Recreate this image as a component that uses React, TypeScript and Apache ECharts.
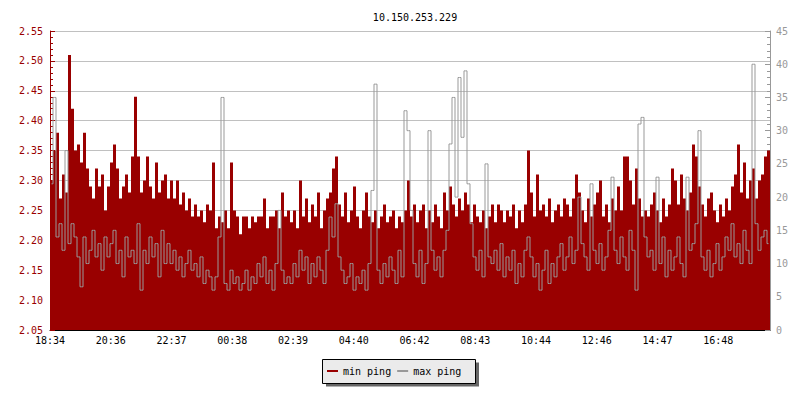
import React, { useEffect, useRef } from 'react';
import * as echarts from 'echarts';

const TITLE = '10.150.253.229';
const TICK_LABELS = ['18:34', '20:36', '22:37', '00:38', '02:39', '04:40', '06:42', '08:43', '10:44', '12:46', '14:47', '16:48'];
const LEGEND_NAMES = ['min ping', 'max ping'];

// one sample every 6 minutes over 24 hours (240 samples)
const MIN_PING = [
  2.30, 2.35, 2.38, 2.27, 2.31, 2.28, 2.51, 2.42, 2.35, 2.36,
  2.33, 2.38, 2.32, 2.29, 2.27, 2.32, 2.29, 2.31, 2.25, 2.29,
  2.33, 2.36, 2.32, 2.27, 2.29, 2.31, 2.28, 2.34, 2.44, 2.34,
  2.28, 2.30, 2.34, 2.29, 2.27, 2.33, 2.28, 2.30, 2.31, 2.27,
  2.30, 2.27, 2.30, 2.26, 2.28, 2.25, 2.27, 2.24, 2.26, 2.24,
  2.25, 2.23, 2.26, 2.25, 2.33, 2.22, 2.24, 2.23, 2.25, 2.22,
  2.33, 2.25, 2.24, 2.21, 2.24, 2.24, 2.22, 2.24, 2.23, 2.24,
  2.24, 2.27, 2.22, 2.24, 2.24, 2.25, 2.22, 2.28, 2.24, 2.25,
  2.23, 2.25, 2.22, 2.30, 2.24, 2.27, 2.23, 2.26, 2.24, 2.28,
  2.22, 2.25, 2.27, 2.28, 2.32, 2.34, 2.26, 2.24, 2.28, 2.23,
  2.25, 2.29, 2.24, 2.22, 2.25, 2.28, 2.24, 2.23, 2.25, 2.22,
  2.24, 2.26, 2.23, 2.24, 2.25, 2.22, 2.24, 2.23, 2.25, 2.30,
  2.24, 2.26, 2.23, 2.25, 2.26, 2.22, 2.25, 2.23, 2.26, 2.24,
  2.22, 2.28, 2.25, 2.29, 2.26, 2.24, 2.27, 2.25, 2.28, 2.26,
  2.23, 2.26, 2.24, 2.23, 2.25, 2.22, 2.24, 2.26, 2.23, 2.26,
  2.25, 2.23, 2.25, 2.24, 2.26, 2.22, 2.25, 2.23, 2.26, 2.35,
  2.28, 2.24, 2.31, 2.25, 2.26, 2.24, 2.27, 2.23, 2.25, 2.26,
  2.24, 2.27, 2.26, 2.24, 2.27, 2.31, 2.28, 2.25, 2.23, 2.27,
  2.24, 2.26, 2.28, 2.30, 2.24, 2.26, 2.23, 2.27, 2.25, 2.29,
  2.25, 2.34, 2.34, 2.30, 2.26, 2.32, 2.27, 2.24, 2.25, 2.24,
  2.26, 2.28, 2.25, 2.23, 2.27, 2.24, 2.26, 2.32, 2.30, 2.26,
  2.31, 2.27, 2.25, 2.28, 2.36, 2.34, 2.29, 2.26, 2.24, 2.27,
  2.28, 2.25, 2.23, 2.26, 2.24, 2.27, 2.25, 2.29, 2.31, 2.36,
  2.28, 2.33, 2.27, 2.30, 2.32, 2.27, 2.30, 2.31, 2.34, 2.35,
];

const MAX_PING = [
  22, 35, 14, 16, 12, 27, 13, 16, 14, 11,
  6.5, 14, 10, 12, 15, 11, 13, 9, 14, 11,
  13, 15, 10, 12, 8, 14, 11, 12, 10, 16,
  6, 12, 10, 14, 11, 13, 8, 15, 10, 13,
  10, 12, 9, 11, 8, 10, 12, 9, 10, 8,
  11, 7, 9, 8, 6, 8, 14, 35, 7, 6,
  9, 7, 8, 6, 7, 9, 6, 8, 7, 10,
  8, 11, 7, 9, 6, 10, 18, 9, 7, 8,
  7, 10, 8, 12, 9, 11, 7, 10, 8, 11,
  9, 7, 12, 17, 14, 19, 11, 9, 7, 8,
  10, 6, 8, 7, 9, 6, 10, 21, 37, 9,
  7, 10, 8, 11, 9, 7, 12, 8, 33, 30,
  18, 10, 8, 12, 7, 10, 30, 12, 9, 11,
  8, 12, 15, 28, 35, 20, 38, 29, 39, 22,
  16, 11, 9, 12, 8, 25, 11, 10, 12, 9,
  13, 8, 11, 9, 12, 7, 10, 8, 12, 14,
  11, 8, 10, 6, 9, 12, 7, 10, 8, 11,
  13, 9, 11, 14, 10, 12, 20, 13, 11, 9,
  22, 12, 10, 13, 9, 11, 15, 23, 12, 10,
  14, 11, 9, 15, 12, 6, 31, 32, 14, 11,
  12, 9, 23, 10, 14, 8, 12, 9, 11, 14,
  10, 8, 23, 12, 13, 16, 30, 11, 9, 12,
  8, 10, 13, 9, 11, 14, 12, 16, 11, 13,
  10, 15, 12, 10, 40, 16, 12, 14, 15, 13,
];

const SAMPLE_MIN = 6;
const SPAN_MIN = 1440;
const LABEL_STEP = 121.5;

const FONT = '"DejaVu Sans Mono", monospace';
const RED = '#990000';
const GRAY = '#999999';

export default function App() {
  const ref = useRef<HTMLDivElement>(null);

  useEffect(() => {
    if (!ref.current) return;
    const chart = echarts.init(ref.current, null, { renderer: 'svg' });

    const redData: number[][] = MIN_PING.map((v, i) => [i * SAMPLE_MIN, v]);
    redData.push([SPAN_MIN, MIN_PING[MIN_PING.length - 1]]);
    const grayData = MAX_PING.map((v, i) => [i * SAMPLE_MIN + SAMPLE_MIN / 2, v]);

    chart.setOption({
      animation: false,
      backgroundColor: '#ffffff',
      title: {
        text: TITLE,
        left: 410,
        top: 7,
        textAlign: 'center',
        textStyle: { fontFamily: FONT, fontSize: 10, fontWeight: 'normal', color: '#000' },
      },
      grid: { left: 50, right: 30, top: 31, bottom: 70, containLabel: false, outerBoundsMode: 'none' },
      legend: {
        data: LEGEND_NAMES,
        icon: 'rect',
        itemWidth: 11,
        itemHeight: 2,
        itemGap: 6,
        left: 327,
        top: 365,
        padding: 0,
        selectedMode: false,
        textStyle: { fontFamily: FONT, fontSize: 10, color: '#000', lineHeight: 12 },
      },
      graphic: [
        { type: 'rect', silent: true, z: 1, shape: { x: 326, y: 362.5, width: 153, height: 24 }, style: { fill: '#666666' } },
        { type: 'rect', silent: true, z: 2, shape: { x: 322.5, y: 359.5, width: 153, height: 24 }, style: { fill: '#ebebeb', stroke: '#000', lineWidth: 1 } },
      ],
      xAxis: {
        type: 'value',
        min: 0,
        max: SPAN_MIN,
        interval: LABEL_STEP,
        axisLine: { show: true, lineStyle: { color: '#000', width: 1 } },
        axisTick: { show: true, inside: true, length: 5, lineStyle: { color: '#000' } },
        axisLabel: {
          show: true,
          margin: 5,
          fontFamily: FONT,
          fontSize: 10,
          color: '#000',
          showMaxLabel: false,
          formatter: (v: number) => TICK_LABELS[Math.round(v / LABEL_STEP)] ?? '',
        },
        splitLine: { show: false },
      },
      yAxis: [
        {
          type: 'value',
          position: 'left',
          min: 2.05,
          max: 2.55,
          interval: 0.05,
          axisLine: { show: true, lineStyle: { color: RED } },
          axisTick: { show: true, inside: true, length: 5, lineStyle: { color: RED } },
          minorTick: { show: true, splitNumber: 5, length: 3, lineStyle: { color: RED } },
          axisLabel: { margin: 7, fontFamily: FONT, fontSize: 10, color: RED, formatter: (v: number) => v.toFixed(2) },
          splitLine: { show: true, lineStyle: { color: '#c0c0c0', width: 1 } },
        },
        {
          type: 'value',
          position: 'right',
          min: 0,
          max: 45,
          interval: 5,
          axisLine: { show: true, lineStyle: { color: GRAY } },
          axisTick: { show: true, inside: true, length: 5, lineStyle: { color: GRAY } },
          minorTick: { show: true, splitNumber: 5, length: 3, lineStyle: { color: GRAY } },
          axisLabel: { margin: 6, fontFamily: FONT, fontSize: 10, color: GRAY },
          splitLine: { show: false },
        },
      ],
      series: [
        {
          type: 'line',
          name: LEGEND_NAMES[0],
          yAxisIndex: 0,
          step: 'end',
          symbol: 'none',
          showSymbol: false,
          data: redData,
          itemStyle: { color: RED },
          lineStyle: { width: 0, color: RED },
          areaStyle: { color: RED, opacity: 1, origin: 'start' },
          z: 2,
        },
        {
          type: 'line',
          name: LEGEND_NAMES[1],
          yAxisIndex: 1,
          step: 'middle',
          symbol: 'none',
          showSymbol: false,
          data: grayData,
          itemStyle: { color: GRAY },
          lineStyle: { width: 1, color: GRAY },
          z: 3,
        },
      ],
    });

    return () => chart.dispose();
  }, []);

  return <div ref={ref} style={{ position: 'fixed', left: 0, top: 0, width: 800, height: 400 }} />;
}
